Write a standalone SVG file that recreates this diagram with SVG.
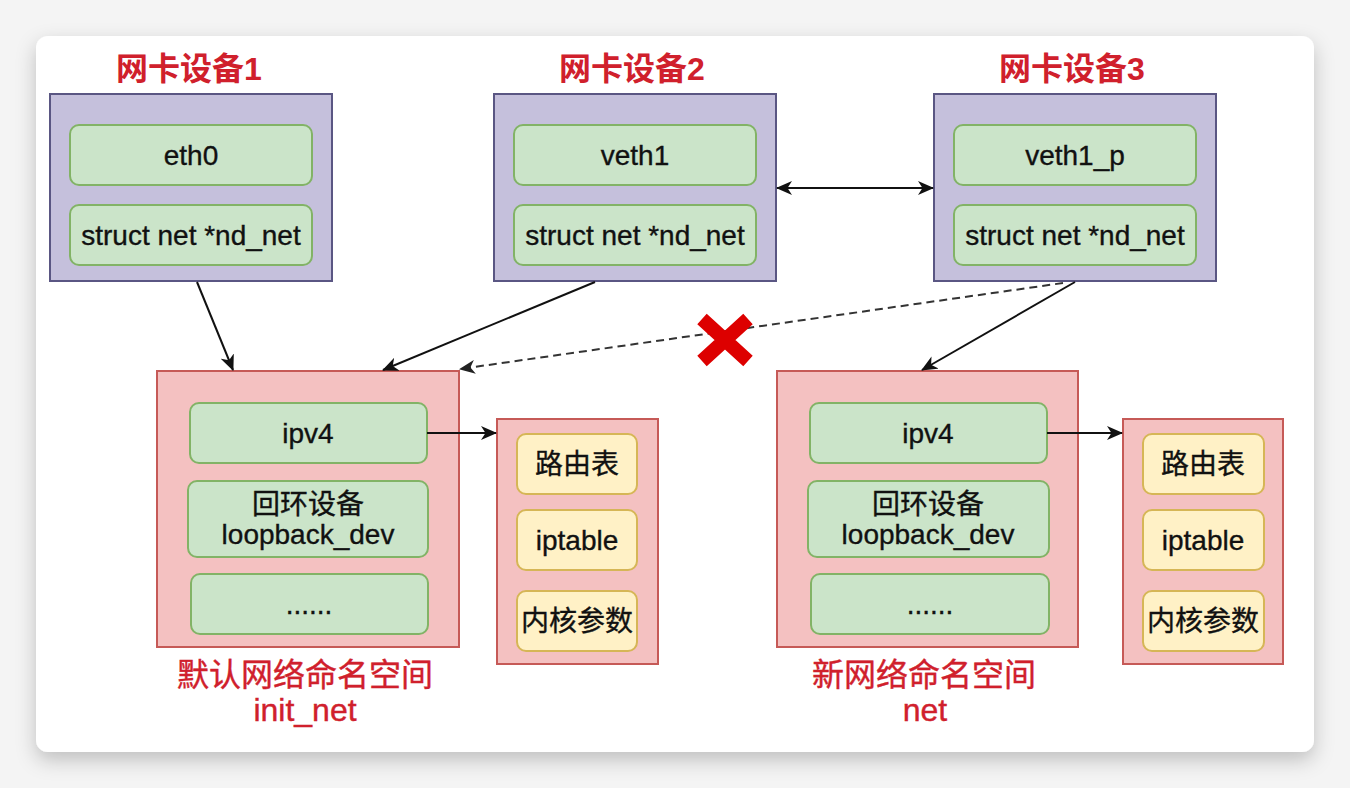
<svg xmlns="http://www.w3.org/2000/svg" width="1350" height="788" viewBox="0 0 1350 788">
<defs>
<filter id="sh" x="-10%" y="-10%" width="120%" height="125%">
<feDropShadow dx="0" dy="8" stdDeviation="10" flood-color="#000" flood-opacity="0.22"/>
</filter>
<marker id="ah" markerUnits="userSpaceOnUse" markerWidth="16" markerHeight="14" viewBox="0 0 16 14" refX="15" refY="7" orient="auto-start-reverse">
<path d="M0,0 L16,7 L0,14 L4.5,7 Z" fill="#111"/>
</marker>
<marker id="ahd" markerUnits="userSpaceOnUse" markerWidth="16" markerHeight="14" viewBox="0 0 16 14" refX="15" refY="7" orient="auto">
<path d="M0,0 L16,7 L0,14 L4.5,7 Z" fill="#222"/>
</marker>
</defs>
<style>
.dev{fill:#c5c0dc;stroke:#5a5683;stroke-width:2}
.g{fill:#cbe4c9;stroke:#82b366;stroke-width:2}
.ns{fill:#f4c1c1;stroke:#c65a57;stroke-width:2}
.y{fill:#fff1c6;stroke:#d6b656;stroke-width:2}
.t{font-family:"Liberation Sans","Noto Sans CJK SC",sans-serif;font-size:28px;fill:#111;stroke:#111;stroke-width:0.35;text-anchor:middle}
.title{font-family:"Liberation Sans","Noto Sans CJK SC",sans-serif;font-size:32px;font-weight:bold;fill:#d0202c;text-anchor:middle}
.lbl{font-family:"Liberation Sans","Noto Sans CJK SC",sans-serif;font-size:32px;fill:#d0202c;stroke:#d0202c;stroke-width:0.4;text-anchor:middle}
.c{fill:none;stroke:#111;stroke-width:2}
.d{fill:none;stroke:#333;stroke-width:2;stroke-dasharray:8 5}
</style>
<rect x="0" y="0" width="1350" height="788" fill="#f4f4f4"/>
<rect x="36" y="36" width="1278" height="716" rx="12" fill="#ffffff" filter="url(#sh)"/>

<g id="dev1">
<text class="title" x="189" y="80">网卡设备1</text>
<rect class="dev" x="50" y="94" width="282" height="187"/>
<rect class="g" x="70" y="125" width="242" height="60" rx="9"/>
<text class="t" x="191" y="165">eth0</text>
<rect class="g" x="70" y="205" width="242" height="60" rx="9"/>
<text class="t" x="191" y="245">struct net *nd_net</text>
</g>

<g id="dev2">
<text class="title" x="632" y="80">网卡设备2</text>
<rect class="dev" x="494" y="94" width="282" height="187"/>
<rect class="g" x="514" y="125" width="242" height="60" rx="9"/>
<text class="t" x="635" y="165">veth1</text>
<rect class="g" x="514" y="205" width="242" height="60" rx="9"/>
<text class="t" x="635" y="245">struct net *nd_net</text>
</g>

<g id="dev3">
<text class="title" x="1072" y="80">网卡设备3</text>
<rect class="dev" x="934" y="94" width="282" height="187"/>
<rect class="g" x="954" y="125" width="242" height="60" rx="9"/>
<text class="t" x="1075" y="165">veth1_p</text>
<rect class="g" x="954" y="205" width="242" height="60" rx="9"/>
<text class="t" x="1075" y="245">struct net *nd_net</text>
</g>

<g id="init_net">
<rect class="ns" x="157" y="371" width="302" height="276"/>
<rect class="g" x="190" y="403" width="237" height="60" rx="9"/>
<text class="t" x="308" y="443">ipv4</text>
<rect class="g" x="188" y="481" width="240" height="76" rx="9"/>
<text class="t" x="308" y="514">回环设备</text>
<text class="t" x="308" y="544">loopback_dev</text>
<rect class="g" x="191" y="574" width="237" height="60" rx="9"/>
<text class="t" x="309" y="614">......</text>
<text class="lbl" x="305" y="686">默认网络命名空间</text>
<text class="lbl" x="305" y="721">init_net</text>
</g>

<g id="init_tables">
<rect class="ns" x="497" y="419" width="161" height="245"/>
<rect class="y" x="517" y="434" width="120" height="60" rx="9"/>
<text class="t" x="577" y="474">路由表</text>
<rect class="y" x="517" y="510" width="120" height="60" rx="9"/>
<text class="t" x="577" y="550">iptable</text>
<rect class="y" x="517" y="591" width="120" height="60" rx="9"/>
<text class="t" x="577" y="631">内核参数</text>
</g>

<g id="net">
<rect class="ns" x="777" y="371" width="301" height="276"/>
<rect class="g" x="810" y="403" width="237" height="60" rx="9"/>
<text class="t" x="928" y="443">ipv4</text>
<rect class="g" x="808" y="481" width="241" height="76" rx="9"/>
<text class="t" x="928" y="514">回环设备</text>
<text class="t" x="928" y="544">loopback_dev</text>
<rect class="g" x="811" y="574" width="238" height="60" rx="9"/>
<text class="t" x="930" y="614">......</text>
<text class="lbl" x="924" y="686">新网络命名空间</text>
<text class="lbl" x="925" y="721">net</text>
</g>

<g id="net_tables">
<rect class="ns" x="1123" y="419" width="160" height="245"/>
<rect class="y" x="1143" y="434" width="121" height="60" rx="9"/>
<text class="t" x="1203" y="474">路由表</text>
<rect class="y" x="1143" y="510" width="121" height="60" rx="9"/>
<text class="t" x="1203" y="550">iptable</text>
<rect class="y" x="1143" y="591" width="121" height="60" rx="9"/>
<text class="t" x="1203" y="631">内核参数</text>
</g>

<g id="connectors">
<line class="c" x1="777" y1="188" x2="933" y2="188" marker-start="url(#ah)" marker-end="url(#ah)"/>
<line class="c" x1="197" y1="282" x2="233" y2="370" marker-end="url(#ah)"/>
<line class="c" x1="595" y1="282" x2="383" y2="370" marker-end="url(#ah)"/>
<line class="d" x1="1063" y1="283" x2="460" y2="369" marker-end="url(#ahd)"/>
<line class="c" x1="1075" y1="282" x2="922" y2="370" marker-end="url(#ah)"/>
<line class="c" x1="427" y1="433" x2="496" y2="433" marker-end="url(#ah)"/>
<line class="c" x1="1047" y1="433" x2="1122" y2="433" marker-end="url(#ah)"/>
</g>

<g id="xmark">
<path d="M702,319 L748,361 M748,319 L702,361" stroke="#dd0000" stroke-width="14" fill="none"/>
</g>
</svg>
